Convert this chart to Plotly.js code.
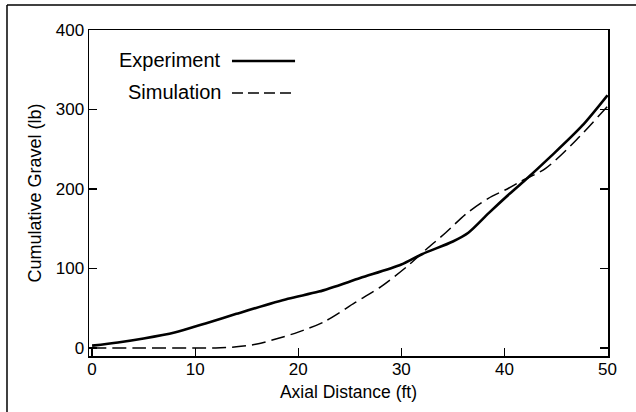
<!DOCTYPE html>
<html>
<head>
<meta charset="utf-8">
<script src="https://cdn.plot.ly/plotly-3.0.1.min.js"></script>
<style>html,body{margin:0;padding:0;background:#fff;}#chart{width:636px;height:412px;}</style>
</head>
<body>
<div id="chart"></div>
<script>
// Experiment (solid)
const expX = [0, 2.5, 5, 8, 11, 14, 19, 22, 26, 30, 32, 35, 36.5, 38.5, 40.5, 42, 44.5, 47.5, 50];
const expY = [3, 7, 12, 19.5, 31, 43, 62, 71, 88, 105, 118, 134, 145, 170, 194, 211, 241, 279, 318];
// Simulation (dashed)
const simX = [0, 5, 10, 12, 14, 16, 18, 20, 22.5, 25.5, 28, 30.5, 32.4, 34.3, 36.3, 38.4, 40.4, 41.5, 44, 47, 50];
const simY = [0, 0, 0, 0, 1.5, 5, 12, 20, 33, 57, 77, 102, 124, 145, 169, 188, 201, 209, 226, 262, 304];
const seriesNames = ['Experiment', 'Simulation'];
const xTicks = [0, 10, 20, 30, 40, 50];
const yTicks = [0, 100, 200, 300, 400];

const font = 'Liberation Sans, Arial, sans-serif';
const traces = [
  {x: expX, y: expY, name: seriesNames[0], mode: 'lines', line: {color: '#000', width: 2.6, shape: 'spline', smoothing: 0.8}, showlegend: false},
  {x: simX, y: simY, name: seriesNames[1], mode: 'lines', line: {color: '#000', width: 1.5, dash: '14px,6px', shape: 'spline', smoothing: 0.8}, showlegend: false}
];
const layout = {
  width: 636, height: 412,
  margin: {l: 89, r: 28, t: 30, b: 56},
  paper_bgcolor: '#fff', plot_bgcolor: '#fff',
  font: {family: font, color: '#000', size: 17},
  xaxis: {
    range: [-0.3, 50.05], tickvals: xTicks, ticktext: xTicks.map(String),
    ticks: 'inside', ticklen: 8, tickwidth: 1.2, tickcolor: '#000',
    showline: true, linecolor: '#000', linewidth: 1.5, mirror: true,
    showgrid: false, zeroline: false, ticklabelstandoff: -3,
    tickfont: {size: 17, family: font},
    title: {text: 'Axial Distance (ft)', font: {size: 17.5, family: font}, standoff: 8}
  },
  yaxis: {
    range: [-10, 400], tickvals: yTicks, ticktext: yTicks.map(String),
    ticks: 'inside', ticklen: 8, tickwidth: 1.2, tickcolor: '#000',
    showline: true, linecolor: '#000', linewidth: 1.5, mirror: 'ticks',
    showgrid: false, zeroline: false,
    tickfont: {size: 17, family: font},
    title: {text: 'Cumulative Gravel (lb)', font: {size: 18, family: font}, standoff: 9}
  },
  shapes: [
    {type: 'line', xref: 'paper', yref: 'paper', x0: -0.158, x1: -0.158, y0: 1.077, y1: -0.172, line: {color: '#000', width: 1.5}},
    {type: 'line', xref: 'paper', yref: 'paper', x0: -0.158, x1: 1.054, y0: 1.077, y1: 1.077, line: {color: '#000', width: 1.5}},
    {type: 'line', xref: 'paper', yref: 'paper', x0: 0.2755, x1: 0.397, y0: 0.905, y1: 0.905, line: {color: '#000', width: 2.6}},
    {type: 'line', xref: 'paper', yref: 'paper', x0: 0.2755, x1: 0.397, y0: 0.807, y1: 0.807, line: {color: '#000', width: 1.5, dash: '11px,5px'}}
  ],
  annotations: [
    {xref: 'paper', yref: 'paper', x: 0.258, y: 0.908, xanchor: 'right', yanchor: 'middle', text: seriesNames[0], showarrow: false, font: {size: 20, family: font}},
    {xref: 'paper', yref: 'paper', x: 0.258, y: 0.81, xanchor: 'right', yanchor: 'middle', text: seriesNames[1], showarrow: false, font: {size: 20, family: font}}
  ]
};
Plotly.newPlot('chart', traces, layout, {displayModeBar: false, staticPlot: true});
</script>
</body>
</html>
